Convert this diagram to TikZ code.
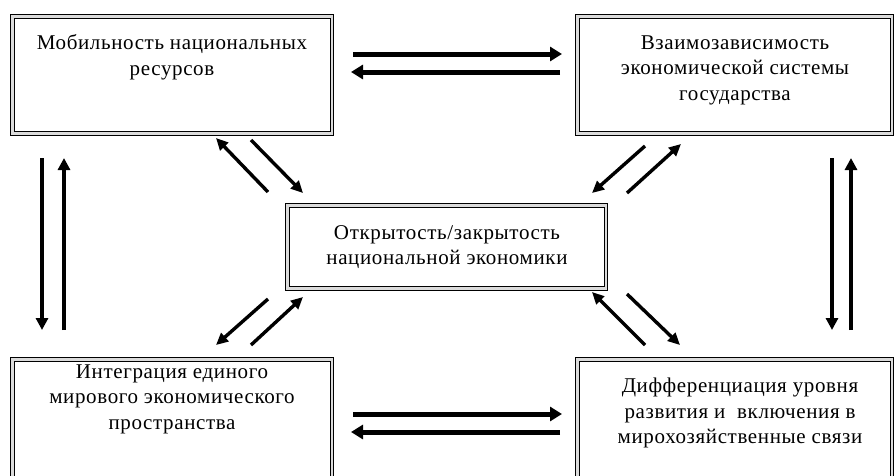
\documentclass[tikz,border=0pt]{standalone}
\usepackage{fontspec}
\setmainfont{Liberation Serif}[LetterSpace=3]
\usetikzlibrary{arrows.meta}
\tikzset{
  box/.style={draw=black, line width=1.2pt, fill=gray!28, rectangle, inner sep=0pt, anchor=north west},
  inbox/.style={draw=black, line width=1pt, fill=white},
  txt/.style={align=center, font=\fontsize{21}{25.5}\selectfont, inner sep=0pt, text=black},
  harr/.style={line width=5pt, -{Triangle[length=12pt,width=14pt]}},
  varr/.style={line width=4pt, -{Triangle[length=12pt,width=12pt]}},
  darr/.style={line width=3.4pt, -{Triangle[length=12pt,width=11pt]}},
}
\begin{document}
\begin{tikzpicture}[x=1pt,y=-1pt]
\useasboundingbox (0,0) rectangle (895,475);
% boxes
\node[box, minimum width=323pt, minimum height=121pt] (b1) at (10,14) {};
\node[box, minimum width=318pt, minimum height=121pt] (b2) at (575,14) {};
\node[box, minimum width=322pt, minimum height=87pt] (b3) at (285,203) {};
\node[box, minimum width=323pt, minimum height=125pt] (b4) at (10,357) {};
\node[box, minimum width=318pt, minimum height=125pt] (b5) at (575,357) {};
\foreach \b in {b1,b2,b3,b4,b5}{
  \draw[inbox] ([shift={(4,4)}]\b.north west) rectangle ([shift={(-4,-5)}]\b.south east);
}
% texts
\node[txt] (t1) at (172,57) {Мобильность национальных\\ресурсов};
\node[txt] (t2) at (735,70) {Взаимозависимость\\экономической системы\\государства};
\node[txt] (t3) at (447,247) {Открытость/закрытость\\национальной экономики};
\node[txt] (t4) at (172,399) {Интеграция единого\\мирового экономического\\пространства};
\node[txt] (t5) at (740,413) {Дифференциация уровня\\развития и\ \ включения в\\мирохозяйственные связи};
% coordinates
\coordinate (h1a) at (353,54);  \coordinate (h1b) at (562,54);
\coordinate (h2a) at (560,72);  \coordinate (h2b) at (351,72);
\coordinate (h3a) at (353,414); \coordinate (h3b) at (562,414);
\coordinate (h4a) at (560,432); \coordinate (h4b) at (351,432);
\coordinate (v1a) at (42,158);  \coordinate (v1b) at (42,330);
\coordinate (v2a) at (64,330);  \coordinate (v2b) at (64,158);
\coordinate (v3a) at (832,158); \coordinate (v3b) at (832,330);
\coordinate (v4a) at (851,330); \coordinate (v4b) at (851,158);
\coordinate (d1a) at (268,192); \coordinate (d1b) at (216,138);
\coordinate (d2a) at (251,140); \coordinate (d2b) at (303,193);
\coordinate (d3a) at (645,146); \coordinate (d3b) at (592,193);
\coordinate (d4a) at (627,193); \coordinate (d4b) at (681,144);
\coordinate (d5a) at (268,299); \coordinate (d5b) at (216,345);
\coordinate (d6a) at (251,345); \coordinate (d6b) at (303,297);
\coordinate (d7a) at (645,345); \coordinate (d7b) at (592,292);
\coordinate (d8a) at (627,294); \coordinate (d8b) at (680,345);
% arrows
\draw[harr] (h1a) -- (h1b);
\draw[harr] (h2a) -- (h2b);
\draw[harr] (h3a) -- (h3b);
\draw[harr] (h4a) -- (h4b);
\draw[varr] (v1a) -- (v1b);
\draw[varr] (v2a) -- (v2b);
\draw[varr] (v3a) -- (v3b);
\draw[varr] (v4a) -- (v4b);
\draw[darr] (d1a) -- (d1b);
\draw[darr] (d2a) -- (d2b);
\draw[darr] (d3a) -- (d3b);
\draw[darr] (d4a) -- (d4b);
\draw[darr] (d5a) -- (d5b);
\draw[darr] (d6a) -- (d6b);
\draw[darr] (d7a) -- (d7b);
\draw[darr] (d8a) -- (d8b);
\end{tikzpicture}
\end{document}
